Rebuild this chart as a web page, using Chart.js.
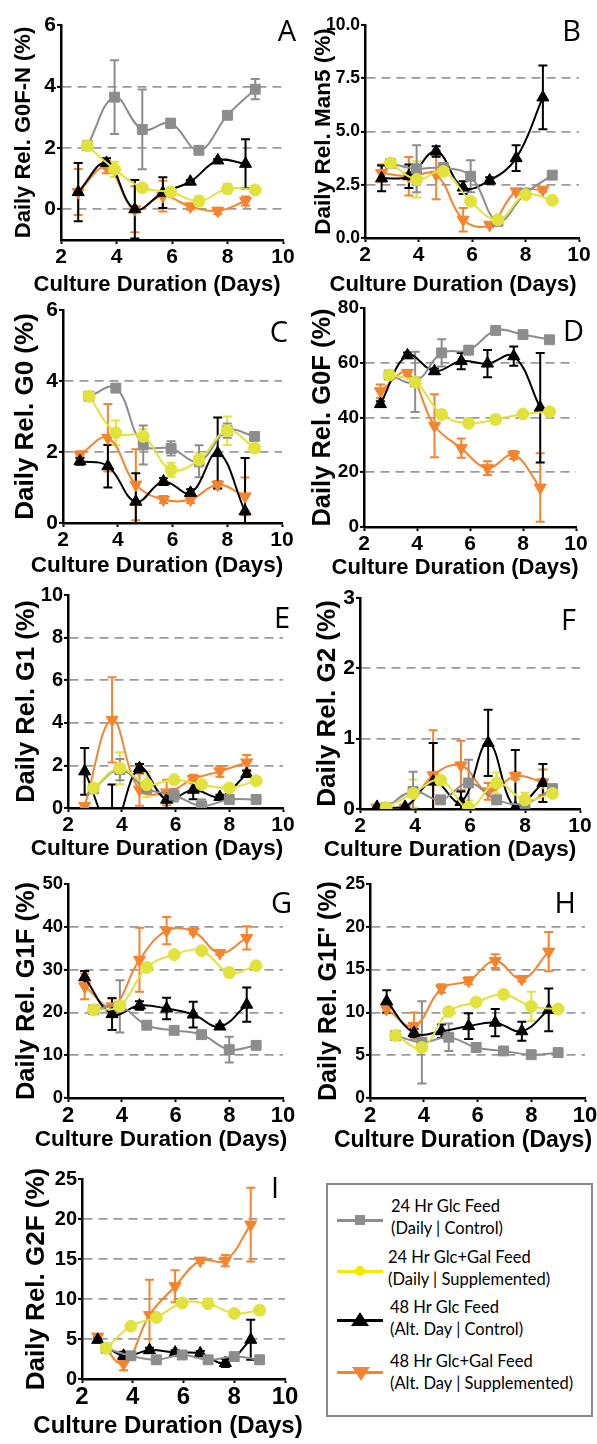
<!DOCTYPE html>
<html>
<head>
<meta charset="utf-8">
<script src="https://cdn.jsdelivr.net/npm/chart.js@4.4.1/dist/chart.umd.min.js"></script>
<style>
    body { margin: 0; background: #fff; width: 597px; height: 1444px; position: relative; overflow: hidden; }
    canvas { position: absolute; }
    #legend { position: absolute; left: 326px; top: 1183px; width: 263px; height: 230px; border: 2px solid #8a8a8a; }
    .lg { position: absolute; }
    .lgText { position: absolute; font-family: Lato, 'Open Sans', sans-serif; font-size: 16.5px; line-height: 21.5px; color: #000; white-space: nowrap; }
</style>
</head>
<body>
<canvas id="chartA"></canvas>
<canvas id="chartB"></canvas>
<canvas id="chartC"></canvas>
<canvas id="chartD"></canvas>
<canvas id="chartE"></canvas>
<canvas id="chartF"></canvas>
<canvas id="chartG"></canvas>
<canvas id="chartH"></canvas>
<canvas id="chartI"></canvas>
<div id="legend"></div>
<script>
// sampling days (daily feed runs sit a bit right of the alt-day runs)
const dailyDays = [2.95, 3.93, 4.93, 5.95, 6.97, 8.0, 9.0];
const altDays = [2.62, 3.64, 4.66, 5.67, 6.66, 7.65, 8.65];
const xTicks = [2, 4, 6, 8, 10];

// A - G0F-N
const aYTicks = [0, 2, 4, 6];
const aGray = [2.07, 3.65, 2.6, 2.8, 1.92, 3.06, 3.91];
const aGrayErr = [0, 1.2, 1.3, 0.15, 0.08, 0.08, 0.33];
const aYellow = [2.07, 1.3, 0.7, 0.56, 0.27, 0.67, 0.63];
const aYellowErr = [0.05, 0.25, 0.1, 0.05, 0.15, 0.15, 0.1];
const aBlack = [0.56, 1.51, 0.0, 0.54, 0.9, 1.59, 1.48];
const aBlackErr = [0.95, 0.15, 0.95, 0.5, 0.05, 0.05, 0.8];
const aOrange = [0.56, 1.37, 0.0, 0.43, 0.09, -0.05, 0.27];
const aOrangeErr = [0.75, 0.2, 0.75, 0.5, 0.1, 0.1, 0.15];

// B - Man5
const bYTicks = [0, 2.5, 5, 7.5, 10];
const bGray = [3.5, 3.25, 3.3, 2.9, 0.78, 2.1, 2.95];
const bGrayErr = [0.1, 1.1, 0.2, 0.75, 0.1, 0.2, 0.1];
const bYellow = [3.52, 2.75, 3.12, 1.72, 0.86, 2.03, 1.77];
const bYellowErr = [0.1, 0.85, 0.15, 0.1, 0.1, 0.15, 0.15];
const bBlack = [2.8, 2.9, 4.06, 2.37, 2.7, 3.75, 6.6];
const bBlackErr = [0.6, 0.55, 0.25, 0.3, 0.15, 0.6, 1.5];
const bOrange = [3.05, 2.9, 2.97, 0.86, 0.62, 2.19, 2.27];
const bOrangeErr = [0.4, 0.9, 1.15, 0.55, 0.1, 0.1, 0.1];

// C - G0
const cYTicks = [0, 2, 4, 6];
const cGray = [3.57, 3.8, 2.2, 2.1, 1.74, 2.6, 2.44];
const cGrayErr = [0.05, 0.1, 0.55, 0.2, 0.45, 0.2, 0.1];
const cYellow = [3.57, 2.54, 2.44, 1.5, 1.78, 2.6, 2.11];
const cYellowErr = [0.05, 0.35, 0.2, 0.2, 0.2, 0.4, 0.1];
const cBlack = [1.74, 1.6, 0.6, 1.17, 0.85, 1.97, 0.33];
const cBlackErr = [0.1, 0.6, 0.8, 0.1, 0.1, 1.0, 1.5];
const cOrange = [1.92, 2.4, 1.08, 0.66, 0.66, 1.08, 0.75];
const cOrangeErr = [0.1, 0.95, 1.0, 0.1, 0.1, 0.1, 0.53];

// D - G0F
const dYTicks = [0, 20, 40, 60, 80];
const dGray = [55.5, 53, 63.6, 64.6, 71.8, 70.3, 68.4];
const dGrayErr = [1, 11, 5, 1.5, 1, 1, 1];
const dYellow = [55.5, 53, 41.1, 37.9, 39.3, 41.3, 42.1];
const dYellowErr = [1, 1.5, 1.5, 1, 1.5, 1, 1];
const dBlack = [44.9, 62.7, 56.9, 60.6, 59.7, 62.4, 43.6];
const dBlackErr = [1, 1, 1, 3, 5, 3.5, 20];
const dOrange = [49.6, 56.3, 37, 28.8, 21.5, 26.3, 14.4];
const dOrangeErr = [2.5, 1, 11.5, 3.5, 2.5, 1.5, 12.5];

// E - G1
const eYTicks = [0, 2, 4, 6, 8, 10];
const eGray = [0.9, 1.8, 0.9, 0.6, 0.1, 0.4, 0.4];
const eGrayErr = [0.1, 0.5, 0.2, 0.3, 0.3, 0.05, 0.1];
const eYellow = [0.94, 1.87, 1.1, 1.33, 1.1, 0.94, 1.28];
const eYellowErr = [0.1, 0.75, 0.6, 0.1, 0.2, 0.1, 0.15];
const eBlack = [1.72, -0.9, 1.87, 0.39, 0.86, 0.52, 1.6];
const eBlackErr = [1.1, 2.0, 0.2, 0.4, 0.45, 0.1, 0.15];
const eOrange = [0.1, 4.14, 0.86, 0.73, 1.36, 1.72, 2.14];
const eOrangeErr = [0.1, 2.0, 0.75, 0.6, 0.2, 0.25, 0.35];

// F - G2
const fYTicks = [0, 1, 2, 3];
const fGray = [0.02, 0.25, 0.13, 0.37, 0.13, 0.08, 0.29];
const fGrayErr = [0, 0.28, 0.05, 0.33, 0.05, 0.05, 0.05];
const fYellow = [0.02, 0.22, 0.41, 0.02, 0.37, 0.13, 0.22];
const fYellowErr = [0, 0.2, 0.05, 0.1, 0.15, 0.1, 0.05];
const fBlack = [0.03, 0.03, 0.39, 0.1, 0.94, 0.02, 0.37];
const fBlackErr = [0.02, 0.02, 0.55, 0.15, 0.47, 0.82, 0.27];
const fOrange = [0.02, 0.02, 0.48, 0.62, 0.25, 0.47, 0.38];
const fOrangeErr = [0, 0, 0.64, 0.35, 0.12, 0.05, 0.18];

// G - G1F
const gYTicks = [0, 10, 20, 30, 40, 50];
const gGray = [20.6, 21.4, 17, 15.8, 14.8, 11.3, 12.3];
const gGrayErr = [0.5, 6.1, 0.5, 0.5, 0.5, 3, 0.5];
const gYellow = [20.6, 21.5, 30.5, 33.5, 34.4, 29.3, 30.9];
const gYellowErr = [0.5, 0.5, 0.5, 0.5, 0.5, 1, 0.5];
const gBlack = [28.2, 19.6, 21.6, 20.9, 19.5, 16.7, 21.8];
const gBlackErr = [1.5, 3.7, 1, 2.5, 3, 0.5, 4];
const gOrange = [26.1, 21.4, 32.3, 39.1, 38.9, 33.9, 37.4];
const gOrangeErr = [3, 2, 7.5, 3.2, 0.5, 0.5, 2.7];

// H - G1F'
const hYTicks = [0, 5, 10, 15, 20, 25];
const hGray = [7.3, 6.5, 7.1, 5.9, 5.5, 5.06, 5.3];
const hGrayErr = [0.3, 4.8, 1.6, 0.4, 0.3, 0.2, 0.5];
const hYellow = [7.3, 5.9, 10.1, 11.2, 12.1, 10.7, 10.4];
const hYellowErr = [0.3, 0.3, 0.3, 0.3, 0.3, 1.7, 0.4];
const hBlack = [11.3, 7.6, 7.8, 8.4, 8.8, 7.8, 10.3];
const hBlackErr = [1.3, 0.5, 0.8, 1.5, 1.6, 1.1, 2.5];
const hOrange = [10.4, 8.4, 12.8, 13.7, 16, 13.9, 17.1];
const hOrangeErr = [0.5, 1.6, 0.5, 0.4, 0.8, 0.3, 2.3];

// I - G2F
const iYTicks = [0, 5, 10, 15, 20, 25];
const iGray = [3.84, 2.9, 2.4, 3.0, 2.4, 2.8, 2.4];
const iGrayErr = [0.2, 0.3, 0.2, 0.3, 0.3, 0.3, 0.5];
const iYellow = [3.84, 6.6, 7.7, 9.5, 9.4, 8.2, 8.6];
const iYellowErr = [0.2, 0.2, 0.2, 0.2, 0.2, 0.2, 0.2];
const iBlack = [4.9, 2.9, 3.6, 3.3, 3.2, 2.0, 4.9];
const iBlackErr = [0.3, 0.5, 0.3, 0.3, 0.3, 0.5, 2.5];
const iOrange = [5.3, 1.9, 8.0, 11.6, 14.8, 14.8, 19.3];
const iOrangeErr = [0.3, 0.8, 4.4, 2.0, 0.3, 0.7, 4.6];

const legendLabels = [
    ['24 Hr Glc Feed', '(Daily | Control)'],
    ['24 Hr Glc+Gal Feed', '(Daily | Supplemented)'],
    ['48 Hr Glc Feed', '(Alt. Day | Control)'],
    ['48 Hr Glc+Gal Feed', '(Alt. Day | Supplemented)']
];
const xTitleText = 'Culture Duration (Days)';

const GRAY = '#8d8d8d', YELLOW = '#e2e23c', BLACK = '#000000', ORANGE = '#f5842e';
const styles = [
    { color: GRAY, shape: 'rect', radius: 7, rotation: 0, order: 1 },
    { color: YELLOW, shape: 'circle', radius: 6, rotation: 0, order: 0 },
    { color: BLACK, shape: 'triangle', radius: 7, rotation: 0, order: 2 },
    { color: ORANGE, shape: 'triangle', radius: 7, rotation: 180, order: 3 }
];

Chart.defaults.font.family = "'Liberation Sans', Arial, sans-serif";

// vertical error bars, drawn under the lines, through the chart's own y scale
const errorBars = {
    id: 'errorBars',
    beforeDatasetsDraw(chart) {
        const ctx = chart.ctx;
        const area = chart.chartArea;
        const yScale = chart.scales.y;
        ctx.save();
        ctx.beginPath();
        ctx.rect(area.left, area.top - 1, area.right - area.left, area.bottom - area.top + 1);
        ctx.clip();
        for (let di = chart.data.datasets.length - 1; di >= 0; di--) {
            const ds = chart.data.datasets[di];
            const meta = chart.getDatasetMeta(di);
            ctx.strokeStyle = ds.borderColor;
            ctx.lineWidth = 2;
            meta.data.forEach((pt, i) => {
                const e = ds.errors[i];
                if (!e) return;
                const v = ds.data[i].y;
                const yt = yScale.getPixelForValue(v + e);
                const yb = yScale.getPixelForValue(v - e);
                ctx.beginPath();
                ctx.moveTo(pt.x, yt); ctx.lineTo(pt.x, yb);
                ctx.moveTo(pt.x - 4.5, yt); ctx.lineTo(pt.x + 4.5, yt);
                ctx.moveTo(pt.x - 4.5, yb); ctx.lineTo(pt.x + 4.5, yb);
                ctx.stroke();
            });
        }
        ctx.restore();
    }
};

// panel letter and the x caption (drawn free, so it can run past the plot width like the original)
const panelText = {
    id: 'panelText',
    afterDraw(chart, args, opts) {
        const ctx = chart.ctx;
        ctx.save();
        ctx.fillStyle = '#000';
        ctx.textAlign = 'right';
        ctx.textBaseline = 'alphabetic';
        ctx.font = "29px 'Open Sans', sans-serif";
        ctx.fillText(opts.letter, opts.letterX, opts.letterY);
        ctx.textAlign = 'center';
        ctx.textBaseline = 'middle';
        ctx.font = 'bold ' + opts.captionSize + "px 'Liberation Sans', Arial, sans-serif";
        ctx.fillText(opts.caption, opts.captionX, opts.captionY);
        ctx.restore();
    }
};

function series(style, days, values, errs) {
    return {
        data: days.map((d, i) => ({ x: d, y: values[i] })),
        errors: errs,
        borderColor: style.color,
        backgroundColor: style.color,
        borderWidth: 2,
        tension: 0.4,
        pointStyle: style.shape,
        pointRadius: style.radius,
        pointRotation: style.rotation,
        pointBorderWidth: 1,
        order: style.order
    };
}

function makePanel(p) {
    const canvas = document.getElementById(p.id);
    canvas.width = p.box.W;
    canvas.height = p.box.H;
    canvas.style.width = p.box.W + 'px';
    canvas.style.height = p.box.H + 'px';
    canvas.style.left = p.box.L + 'px';
    canvas.style.top = p.box.T + 'px';

    const yMin = p.yMin;
    const yMax = p.yTicks[p.yTicks.length - 1];
    const yAxisWidth = p.plot.l - p.box.L;
    const xAxisHeight = p.box.T + p.box.H - p.plot.b;

    new Chart(canvas, {
        type: 'line',
        data: {
            datasets: [
                series(styles[0], dailyDays, p.gray[0], p.gray[1]),
                series(styles[1], dailyDays, p.yellow[0], p.yellow[1]),
                series(styles[2], altDays, p.black[0], p.black[1]),
                series(styles[3], altDays, p.orange[0], p.orange[1])
            ]
        },
        options: {
            responsive: false,
            animation: false,
            devicePixelRatio: 1,
            layout: { padding: { left: 0, top: p.plot.t - p.box.T, right: p.box.L + p.box.W - p.plot.r, bottom: 0 } },
            plugins: {
                legend: { display: false },
                tooltip: { enabled: false },
                panelText: {
                    letter: p.letter, letterX: p.letterPos[0] - p.box.L, letterY: p.letterPos[1] - p.box.T,
                    caption: xTitleText, captionSize: p.xTitleSize,
                    captionX: p.xTitleCenter - p.box.L, captionY: p.xTitleMid - p.box.T
                }
            },
            scales: {
                x: {
                    type: 'linear',
                    min: 2,
                    max: 10,
                    afterBuildTicks: s => { s.ticks = xTicks.map(v => ({ value: v })); },
                    afterFit: s => { s.height = xAxisHeight; s.paddingLeft = 0; s.paddingRight = 0; },
                    ticks: { color: '#000', font: { size: p.xTickSize, weight: 'bold' }, padding: p.xTickPad, maxRotation: 0, autoSkip: false },
                    grid: { drawOnChartArea: false, drawTicks: true, tickLength: 4, tickWidth: 2, tickColor: '#000', color: 'transparent' },
                    border: { display: true, color: '#000', width: 2.5 }
                },
                y: {
                    type: 'linear',
                    min: yMin,
                    max: yMax,
                    afterBuildTicks: s => { s.ticks = p.yTicks.map(v => ({ value: v })); },
                    afterFit: s => { s.width = yAxisWidth; s.paddingTop = 0; s.paddingBottom = 0; },
                    ticks: {
                        color: '#000', font: { size: p.yTickSize, weight: 'bold' }, padding: 1, autoSkip: false,
                        callback: v => p.decimals ? v.toFixed(p.decimals) : String(v)
                    },
                    grid: {
                        color: c => (c.tick && c.tick.value > yMin && c.tick.value < yMax) ? '#9a9a9a' : 'transparent',
                        lineWidth: 1.8,
                        drawTicks: true, tickLength: 4, tickWidth: 2, tickColor: '#000', tickBorderDash: []
                    },
                    border: { display: true, color: '#000', width: 2.5, dash: [9, 6] },
                    title: {
                        display: true, text: p.yTitle, color: '#000',
                        font: { size: p.yTitleSize, weight: 'bold', lineHeight: 1.2 },
                        padding: { top: p.yTitleX - p.yTitleSize * 0.6, bottom: 0 }
                    }
                }
            }
        },
        plugins: [errorBars, panelText]
    });
}

const panels = [
    { id: 'chartA', letter: 'A', letterPos: [296, 41], yTitle: 'Daily Rel. G0F-N (%)',
      box: { L: 0, T: 0, W: 297, H: 300 }, plot: { l: 61, t: 25, r: 283, b: 240 },
      yMin: -1, yTicks: aYTicks, decimals: 0, yTitleX: 24, yTitleSize: 22, yTickSize: 21,
      xTickSize: 21, xTickPad: 1, xTitleSize: 22, xTitleMid: 285, xTitleCenter: 157,
      gray: [aGray, aGrayErr], yellow: [aYellow, aYellowErr], black: [aBlack, aBlackErr], orange: [aOrange, aOrangeErr] },
    { id: 'chartB', letter: 'B', letterPos: [581, 41], yTitle: 'Daily Rel. Man5 (%)',
      box: { L: 297, T: 0, W: 300, H: 300 }, plot: { l: 365, t: 25, r: 579, b: 238 },
      yMin: 0, yTicks: bYTicks, decimals: 1, yTitleX: 27, yTitleSize: 22.5, yTickSize: 17.5,
      xTickSize: 21, xTickPad: 1, xTitleSize: 22, xTitleMid: 285, xTitleCenter: 453,
      gray: [bGray, bGrayErr], yellow: [bYellow, bYellowErr], black: [bBlack, bBlackErr], orange: [bOrange, bOrangeErr] },
    { id: 'chartC', letter: 'C', letterPos: [288, 342], yTitle: 'Daily Rel. G0 (%)',
      box: { L: 0, T: 300, W: 297, H: 285 }, plot: { l: 63, t: 310, r: 282, b: 523 },
      yMin: 0, yTicks: cYTicks, decimals: 0, yTitleX: 26, yTitleSize: 26, yTickSize: 21,
      xTickSize: 21, xTickPad: 1, xTitleSize: 22.5, xTitleMid: 566, xTitleCenter: 157,
      gray: [cGray, cGrayErr], yellow: [cYellow, cYellowErr], black: [cBlack, cBlackErr], orange: [cOrange, cOrangeErr] },
    { id: 'chartD', letter: 'D', letterPos: [584, 341], yTitle: 'Daily Rel. G0F (%)',
      box: { L: 297, T: 300, W: 300, H: 285 }, plot: { l: 364, t: 308, r: 576, b: 527 },
      yMin: 0, yTicks: dYTicks, decimals: 0, yTitleX: 26, yTitleSize: 25.5, yTickSize: 19,
      xTickSize: 21, xTickPad: 1, xTitleSize: 22, xTitleMid: 568, xTitleCenter: 455,
      gray: [dGray, dGrayErr], yellow: [dYellow, dYellowErr], black: [dBlack, dBlackErr], orange: [dOrange, dOrangeErr] },
    { id: 'chartE', letter: 'E', letterPos: [290, 628], yTitle: 'Daily Rel. G1 (%)',
      box: { L: 0, T: 585, W: 297, H: 285 }, plot: { l: 68, t: 595, r: 283, b: 808 },
      yMin: 0, yTicks: eYTicks, decimals: 0, yTitleX: 27, yTitleSize: 25.5, yTickSize: 20,
      xTickSize: 21, xTickPad: 1, xTitleSize: 22.5, xTitleMid: 849, xTitleCenter: 157,
      gray: [eGray, eGrayErr], yellow: [eYellow, eYellowErr], black: [eBlack, eBlackErr], orange: [eOrange, eOrangeErr] },
    { id: 'chartF', letter: 'F', letterPos: [576, 630], yTitle: 'Daily Rel. G2 (%)',
      box: { L: 297, T: 585, W: 300, H: 285 }, plot: { l: 360, t: 598, r: 580, b: 809 },
      yMin: 0, yTicks: fYTicks, decimals: 0, yTitleX: 31, yTitleSize: 26, yTickSize: 21,
      xTickSize: 21, xTickPad: 1, xTitleSize: 22.5, xTitleMid: 850, xTitleCenter: 450,
      gray: [fGray, fGrayErr], yellow: [fYellow, fYellowErr], black: [fBlack, fBlackErr], orange: [fOrange, fOrangeErr] },
    { id: 'chartG', letter: 'G', letterPos: [292, 913], yTitle: 'Daily Rel. G1F (%)',
      box: { L: 0, T: 870, W: 297, H: 290 }, plot: { l: 68, t: 884, r: 283, b: 1098 },
      yMin: 0, yTicks: gYTicks, decimals: 0, yTitleX: 27, yTitleSize: 25.5, yTickSize: 18.5,
      xTickSize: 22, xTickPad: 1, xTitleSize: 22.5, xTitleMid: 1140, xTitleCenter: 161,
      gray: [gGray, gGrayErr], yellow: [gYellow, gYellowErr], black: [gBlack, gBlackErr], orange: [gOrange, gOrangeErr] },
    { id: 'chartH', letter: 'H', letterPos: [576, 913], yTitle: "Daily Rel. G1F' (%)",
      box: { L: 297, T: 870, W: 300, H: 290 }, plot: { l: 370, t: 884, r: 585, b: 1098 },
      yMin: 0, yTicks: hYTicks, decimals: 0, yTitleX: 32, yTitleSize: 25, yTickSize: 17.5,
      xTickSize: 22, xTickPad: 1, xTitleSize: 23, xTitleMid: 1141, xTitleCenter: 463,
      gray: [hGray, hGrayErr], yellow: [hYellow, hYellowErr], black: [hBlack, hBlackErr], orange: [hOrange, hOrangeErr] },
    { id: 'chartI', letter: 'I', letterPos: [279, 1198], yTitle: 'Daily Rel. G2F (%)',
      box: { L: 0, T: 1160, W: 318, H: 284 }, plot: { l: 82, t: 1179, r: 285, b: 1379 },
      yMin: 0, yTicks: iYTicks, decimals: 0, yTitleX: 37, yTitleSize: 26, yTickSize: 20,
      xTickSize: 24, xTickPad: 0, xTitleSize: 24, xTitleMid: 1426, xTitleCenter: 168,
      gray: [iGray, iGrayErr], yellow: [iYellow, iYellowErr], black: [iBlack, iBlackErr], orange: [iOrange, iOrangeErr] }
];

document.addEventListener('DOMContentLoaded', () => {
    panels.forEach(makePanel);
    BuildLegend();
});

// legend box drawn in html, page coordinates relative to the box
function BuildLegend() {
    const box = document.getElementById('legend');
    const bx = 328, by = 1185;
    const rows = [
        { lineY: 1220, textX: 391, textY: 1207, color: '#8d8d8d', mark: 'square' },
        { lineY: 1271, textX: 388, textY: 1258, color: '#f2ea00', mark: 'circle' },
        { lineY: 1320, textX: 390, textY: 1308, color: '#000000', mark: 'up' },
        { lineY: 1372, textX: 390, textY: 1362, color: '#f5842e', mark: 'down' }
    ];
    rows.forEach((r, i) => {
        let html = '<div class="lg" style="left:' + (337 - bx) + 'px;top:' + (r.lineY - 1.5 - by) + 'px;width:46px;height:3px;background:' + r.color + '"></div>';
        if (r.mark === 'square') {
            html += '<div class="lg" style="left:' + (355 - bx) + 'px;top:' + (r.lineY - 5 - by) + 'px;width:10px;height:10px;background:' + r.color + '"></div>';
        } else if (r.mark === 'circle') {
            html += '<div class="lg" style="left:' + (355 - bx) + 'px;top:' + (r.lineY - 5 - by) + 'px;width:10px;height:10px;border-radius:50%;background:' + r.color + '"></div>';
        } else if (r.mark === 'up') {
            html += '<div class="lg" style="left:' + (351 - bx) + 'px;top:' + (r.lineY - 8 - by) + 'px;width:0;height:0;border-left:9px solid transparent;border-right:9px solid transparent;border-bottom:14px solid ' + r.color + '"></div>';
        } else {
            html += '<div class="lg" style="left:' + (352 - bx) + 'px;top:' + (r.lineY - 5 - by) + 'px;width:0;height:0;border-left:9px solid transparent;border-right:9px solid transparent;border-top:14px solid ' + r.color + '"></div>';
        }
        html += '<div class="lgText" style="left:' + (r.textX - bx) + 'px;top:' + (r.textY - 10.75 - by) + 'px">' + legendLabels[i][0] + '<br>' + legendLabels[i][1] + '</div>';
        box.innerHTML += html;
    });
}
</script>
</body>
</html>
